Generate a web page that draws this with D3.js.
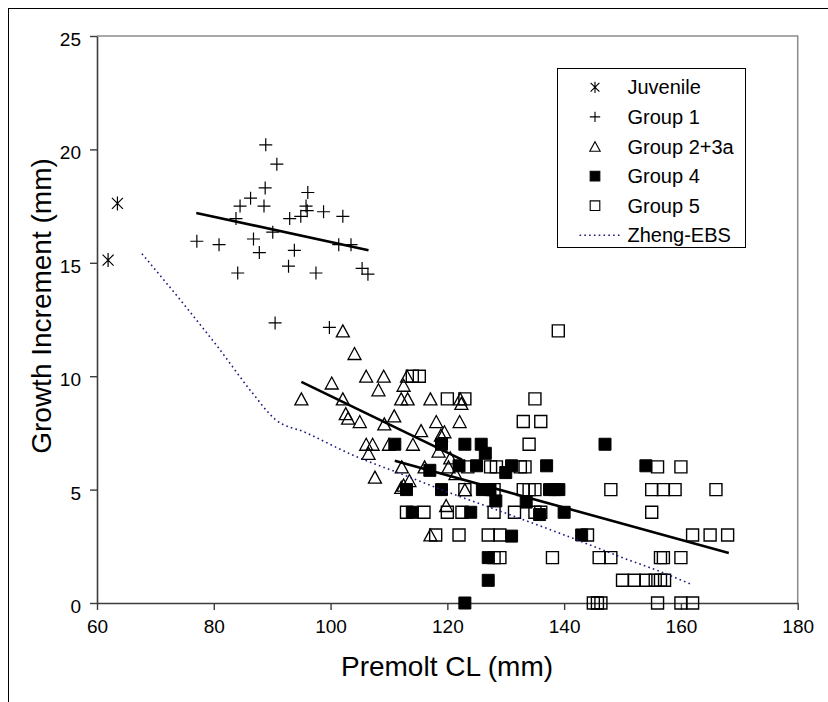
<!DOCTYPE html>
<html>
<head>
<meta charset="utf-8">
<script src="https://cdn.jsdelivr.net/npm/d3@7"></script>
<style>
  body { margin: 0; background: #fff; }
  text { font-family: Arial, "Liberation Sans", sans-serif; fill: #000; }
</style>
</head>
<body>
<div id="growth"></div>
<script>
const WIDTH = 828;
const HEIGHT = 702;

// DATA  [premolt CL, growth increment]
const juvenile = [[61.9, 15.12], [63.5, 17.62]];

const group1 = [
  [77.1, 15.95], [80.9, 15.8], [84.1, 14.55], [83.8, 16.95], [84.5, 17.5],
  [86.3, 17.85], [86.8, 16.05], [87.8, 15.45], [88.9, 20.2], [88.8, 18.3],
  [88.6, 17.5], [90.8, 19.35], [90.1, 16.35], [90.5, 12.35], [93.0, 16.95],
  [92.8, 14.85], [93.8, 15.55], [94.9, 17.05], [95.8, 17.5], [96.1, 18.1],
  [96.0, 17.3], [98.8, 17.25], [97.5, 14.55], [102.1, 17.05], [101.4, 15.8],
  [103.5, 15.8], [99.8, 12.15], [105.4, 14.75], [106.4, 14.5]
];

const group23a = [
  [95, 9.0], [100.2, 9.7], [102.1, 12.0], [102.1, 9.0], [102.6, 8.35],
  [103.0, 8.15], [104.1, 11.0], [105, 8.0], [106.1, 10.0], [106.1, 7.0],
  [107.2, 7.0], [106.5, 6.6], [107.6, 5.55], [108.2, 9.4], [109.1, 10.0],
  [109.2, 7.9], [110, 7.0], [110.9, 8.25], [112.2, 6.0], [112.5, 9.6],
  [112.1, 9.0], [113.2, 9.0], [113.1, 10.0], [112.1, 5.1], [112.5, 5.2],
  [113.5, 5.4], [114.1, 7.0], [115.5, 7.6], [116.1, 6.0], [117.1, 9.0],
  [117.1, 3.0], [118.1, 8.0], [118.5, 6.7], [118.9, 7.4], [119.5, 7.55],
  [119.8, 4.3], [120.2, 6.0], [120.5, 6.4], [121.4, 5.7], [122.1, 8.0],
  [122.2, 9.0], [122.4, 8.8], [123.0, 5.0]
];

const group4 = [
  [111, 7], [119, 7], [123, 7], [125.8, 7], [126.5, 6.6], [147, 7],
  [117, 5.85], [122, 6.05], [125, 6.05], [130, 5.75], [131, 6.05], [137, 6.05], [154, 6.05],
  [113, 5], [119, 5], [126, 5], [127.3, 5], [137.5, 5], [138.4, 5], [139.1, 5],
  [114, 4], [124, 4], [128.3, 4.5], [133.5, 4.45], [135.8, 3.9], [140, 4],
  [131, 2.95], [143, 3], [127, 2], [127, 1], [123, 0]
];

const group5 = [
  [139, 12],
  [114, 10], [115.2, 10],
  [120, 9], [123, 9], [135, 9],
  [133, 8], [136, 8],
  [134, 7],
  [123.5, 6], [127.4, 6], [128.4, 6], [132.5, 6], [133.3, 6], [156, 6], [160, 6],
  [123, 5], [128, 5], [133, 5], [134, 5], [135, 5], [148, 5], [155, 5], [157, 5], [159, 5], [166, 5],
  [113, 4], [116, 4], [120, 4], [122.5, 4], [128, 4], [131.5, 4], [135, 4], [136, 4], [155, 4],
  [118, 3], [122, 3], [127, 3], [129, 3], [144, 3], [162, 3], [165, 3], [168, 3],
  [128, 2], [129, 2], [138, 2], [146, 2], [148, 2], [156.5, 2], [157, 2], [160, 2],
  [150, 1], [152, 1], [154, 1], [155.6, 1], [156.5, 1], [157.2, 1],
  [145, 0], [145.7, 0], [146.3, 0], [156, 0], [160, 0], [162, 0]
];

// fitted lines (end points)
const fit1 = [[77, 17.2], [106.5, 15.55]];
const fit23a = [[95, 9.75], [122.5, 6.32]];
const fit45 = [[111, 6.27], [168.2, 2.2]];

const zhengEBS = [
  [67.7, 15.4], [80.8, 11.25], [86.5, 9.3], [90.5, 8.1], [95.7, 7.52],
  [104, 6.5], [112, 5.7], [120.5, 4.85], [128.5, 4.1], [140, 3.0],
  [146, 2.4], [150.5, 1.95], [156, 1.43], [162, 0.8]
];

const xTicks = [60, 80, 100, 120, 140, 160, 180];
const yTicks = [0, 5, 10, 15, 20, 25];
const legendLabels = ["Juvenile", "Group 1", "Group 2+3a", "Group 4", "Group 5", "Zheng-EBS"];

// CANVAS
const svg = d3.select("#growth")
  .append("svg")
  .attr("width", WIDTH)
  .attr("height", HEIGHT);

// outer frame
svg.append("rect")
  .attr("x", 8.5).attr("y", 8.5)
  .attr("width", WIDTH).attr("height", HEIGHT)
  .attr("fill", "none")
  .attr("stroke", "#000");

const x = d3.scaleLinear().domain([60, 180]).range([97, 797.7]);
const y = d3.scaleLinear().domain([0, 25]).range([603, 36]);

// plot area border (top, right)
svg.append("path")
  .attr("d", `M${x(60)},${y(25)}H${x(180)}V${y(0)}`)
  .attr("fill", "none")
  .attr("stroke", "#8c8c8c")
  .attr("stroke-width", 1.5);

// AXIS
const xAxisGroup = svg.append("g")
  .attr("transform", `translate(0, ${y(0)})`)
  .call(d3.axisBottom(x).tickValues(xTicks).tickSize(7).tickSizeOuter(0).tickPadding(10));
const yAxisGroup = svg.append("g")
  .attr("transform", `translate(${x(60)}, 0)`)
  .call(d3.axisLeft(y).tickValues(yTicks).tickSize(7).tickSizeOuter(0).tickPadding(9));

[xAxisGroup, yAxisGroup].forEach((g) => {
  g.select(".domain").attr("stroke", "#3c3c3c").attr("stroke-width", 1.6);
  g.selectAll(".tick line").attr("stroke", "#3c3c3c").attr("stroke-width", 1.4);
  g.selectAll(".tick text")
    .attr("font-size", "19px")
    .attr("font-family", "Arial, 'Liberation Sans', sans-serif")
    .attr("fill", "#000");
});
yAxisGroup.selectAll(".tick text").attr("dy", "0.5em");

// TITLES
svg.append("text")
  .attr("x", 447)
  .attr("y", 676)
  .attr("text-anchor", "middle")
  .attr("font-size", "28px")
  .text("Premolt CL (mm)");

svg.append("text")
  .attr("transform", "translate(51, 306) rotate(-90)")
  .attr("text-anchor", "middle")
  .attr("font-size", "28px")
  .text("Growth Increment (mm)");

// MARKERS
const markers = {
  asterisk: "M-5.5,-5.5L5.5,5.5M5.5,-5.5L-5.5,5.5M0,-7V7",
  cross: "M-6.5,0H6.5M0,-6.5V6.5",
  triangle: "M0,-6L6.5,6H-6.5Z",
  square: "M-6,-6H6V6H-6Z"
};

function drawSeries(data, shape, fill, sw) {
  svg.append("g")
    .selectAll("path")
    .data(data)
    .join("path")
    .attr("transform", (d) => `translate(${x(d[0])}, ${y(d[1])})`)
    .attr("d", markers[shape])
    .attr("fill", fill)
    .attr("stroke", "#000")
    .attr("stroke-width", sw);
}

drawSeries(juvenile, "asterisk", "none", 1.2);
drawSeries(group1, "cross", "none", 1.2);
drawSeries(group23a, "triangle", "none", 1.3);
drawSeries(group4, "square", "#000", 1);
drawSeries(group5, "square", "none", 1.4);

// LINES
const line = d3.line().x((d) => x(d[0])).y((d) => y(d[1]));

[fit1, fit23a, fit45].forEach((f) => {
  svg.append("path")
    .attr("d", line(f))
    .attr("fill", "none")
    .attr("stroke", "#000")
    .attr("stroke-width", 2.6);
});

svg.append("path")
  .attr("d", line.curve(d3.curveMonotoneX)(zhengEBS))
  .attr("fill", "none")
  .attr("stroke", "#1a1a80")
  .attr("stroke-width", 1.6)
  .attr("stroke-dasharray", "1.6,3.2");

// LEGEND
const legend = svg.append("g").attr("transform", "translate(557.5, 68.5)");
legend.append("rect")
  .attr("width", 188)
  .attr("height", 179)
  .attr("fill", "#fff")
  .attr("stroke", "#000");

const legendShapes = ["asterisk", "cross", "triangle", "square", "square"];
const legendFills = ["none", "none", "none", "#000", "#fff"];

const legendRows = legend.selectAll("g")
  .data(legendLabels)
  .join("g")
  .attr("transform", (d, i) => `translate(0, ${18.8 + i * 29.6})`);

legendRows.filter((d, i) => i < 5)
  .append("path")
  .attr("transform", "translate(37.5, 0) scale(0.8)")
  .attr("d", (d, i) => markers[legendShapes[i]])
  .attr("fill", (d, i) => legendFills[i])
  .attr("stroke", "#000")
  .attr("stroke-width", 1.4);

legendRows.filter((d, i) => i === 5)
  .append("line")
  .attr("x1", 22).attr("x2", 64)
  .attr("stroke", "#1a1a80")
  .attr("stroke-width", 1.6)
  .attr("stroke-dasharray", "1.6,3.2");

legendRows.append("text")
  .attr("x", 70)
  .attr("y", 7)
  .attr("font-size", "20px")
  .text((d) => d);
</script>
</body>
</html>
